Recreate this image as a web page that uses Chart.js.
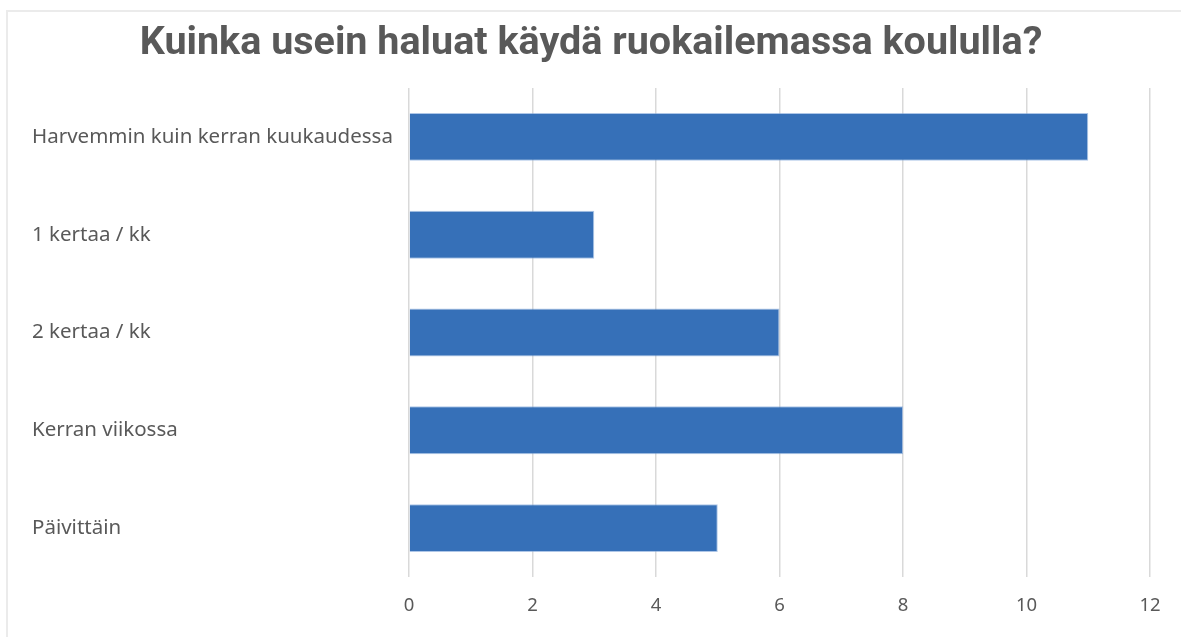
<!DOCTYPE html>
<html>
<head>
<meta charset="utf-8">
<script src="https://cdn.jsdelivr.net/npm/chart.js@4"></script>
<style>
  html, body { margin: 0; padding: 0; background: #ffffff; }
  #wrap { position: relative; width: 1181px; height: 637px; overflow: hidden; }
  #frame { position: absolute; left: 6px; top: 10px; right: -10px; bottom: -10px;
           border-top: 2px solid #ebebeb; border-left: 2px solid #ebebeb; }
  canvas { position: absolute; left: 0; top: 0; }
</style>
</head>
<body>
<div id="wrap">
  <div id="frame"></div>
  <canvas id="c" width="1181" height="637"></canvas>
</div>
<script>
const titleText = "Kuinka usein haluat käydä ruokailemassa koululla?";
const categories = [
  "Harvemmin kuin kerran kuukaudessa",
  "1 kertaa / kk",
  "2 kertaa / kk",
  "Kerran viikossa",
  "Päivittäin"
];
const values = [11, 3, 6, 8, 5];
const xTicks = [0, 2, 4, 6, 8, 10, 12];

function barGradient(ctx) {
  const chart = ctx.chart;
  const el = ctx.element;
  if (!chart.chartArea || !el || el.y === undefined) return '#3670b8';
  const h = el.height || 48;
  const top = el.y - h / 2, bottom = el.y + h / 2;
  const g = chart.ctx.createLinearGradient(0, top, 0, bottom);
  g.addColorStop(0, '#3e80cf');
  g.addColorStop(0.5, '#3670b8');
  g.addColorStop(1, '#2c5a98');
  return g;
}

new Chart(document.getElementById('c'), {
  type: 'bar',
  data: {
    labels: categories,
    datasets: [{
      data: values,
      backgroundColor: barGradient,
      borderColor: 'rgba(120,160,215,0.6)',
      borderWidth: 1,
      categoryPercentage: 1.0,
      barPercentage: 0.49
    }]
  },
  options: {
    indexAxis: 'y',
    responsive: false,
    animation: false,
    events: [],
    layout: { padding: { left: 32, right: 31, top: 20, bottom: 0 } },
    plugins: {
      legend: { display: false },
      tooltip: { enabled: false },
      title: {
        display: true,
        text: titleText,
        color: '#595959',
        font: { family: "'Liberation Sans Narrow', 'Roboto', sans-serif", size: 39.5, weight: 'bold', lineHeight: 1.2 },
        padding: { top: 0, bottom: 20.6 }
      }
    },
    scales: {
      x: {
        min: 0,
        max: 12,
        afterBuildTicks: (axis) => { axis.ticks = xTicks.map(v => ({ value: v })); },
        afterFit: (axis) => { axis.height = 60; },
        grid: { color: '#d9d9d9', lineWidth: 1.5, drawTicks: false },
        border: { display: false },
        ticks: {
          color: '#595959',
          padding: 18,
          font: { family: "'Noto Sans', sans-serif", size: 18.5 }
        }
      },
      y: {
        afterFit: (axis) => { axis.width = 377; },
        grid: { display: false },
        border: { display: false },
        ticks: {
          crossAlign: 'far',
          color: '#595959',
          font: { family: "'Noto Sans', sans-serif", size: 20.5 }
        }
      }
    }
  }
});
</script>
</body>
</html>
